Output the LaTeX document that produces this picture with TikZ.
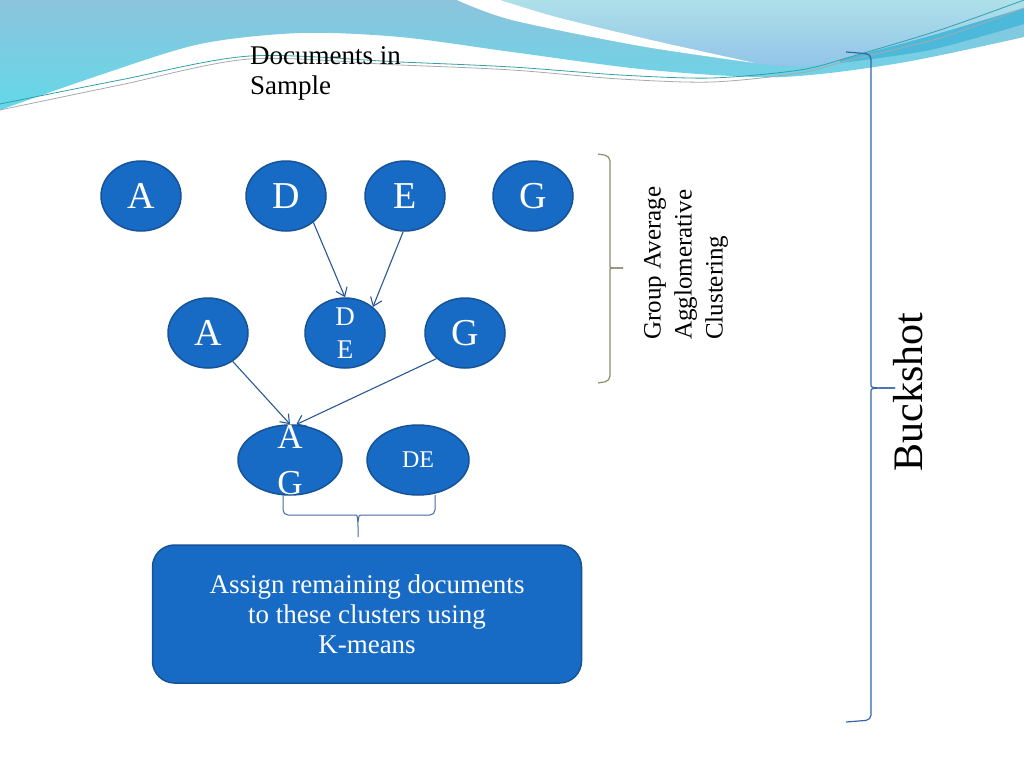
\documentclass[tikz,border=0pt]{standalone}
\usepackage{fontspec}
\setmainfont{Liberation Serif}
\usetikzlibrary{arrows.meta,shapes.geometric}
\definecolor{clusterfill}{RGB}{24,107,196}
\definecolor{clusterline}{RGB}{22,82,150}
\definecolor{arrowblue}{RGB}{40,88,150}
\definecolor{braceolive}{RGB}{140,140,110}
\definecolor{braceblue}{RGB}{50,100,165}
\definecolor{wavetop}{RGB}{140,196,220}
\definecolor{wavebottom}{RGB}{100,216,234}
\definecolor{wavelight}{RGB}{174,224,234}
\definecolor{wavesky}{RGB}{146,196,232}
\definecolor{wavedeep}{RGB}{76,184,218}
\definecolor{lineteal}{RGB}{50,160,165}
\definecolor{linegray}{RGB}{165,170,172}
\tikzset{
  cluster/.style={ellipse, draw=clusterline, line width=1.5pt, fill=clusterfill, text=white,
    minimum width=80pt, minimum height=70pt, inner sep=0pt, font=\fontsize{38}{40}\selectfont},
  pairtext/.style={text=white, align=center, inner sep=0pt, font=\fontsize{27}{33}\selectfont},
  kbox/.style={draw=clusterline, line width=1.5pt, fill=clusterfill, rounded corners=22pt,
    minimum width=429pt, minimum height=138pt, text=white, align=center, font=\fontsize{27}{30}\selectfont},
  merge/.style={draw=arrowblue, line width=1.1pt, -{Straight Barb[length=8pt,width=12pt]}},
  groupbrace/.style={draw=braceolive, line width=1.2pt, rounded corners=5pt},
  buckbrace/.style={draw=braceblue, line width=1.2pt, rounded corners=5pt},
  pairbrace/.style={draw=braceblue!80!gray, line width=1pt, rounded corners=5pt}
}
\begin{document}
\begin{tikzpicture}[x=1pt, y=-1pt]
		\useasboundingbox (0,0) rectangle (1024,768);
		\shade[top color=wavetop, bottom color=wavebottom] (0,0) -- plot[smooth] coordinates {(0,110) (100,75) (200,44) (300,33) (400,37) (512,52) (650,70) (780,77) (900,63) (1024,37)} -- (1024,0) -- cycle;
		\shade[top color=wavelight, bottom color=wavesky] (500,0) -- plot[smooth] coordinates {(500,0) (560,18) (660,42) (755,63) (812,66) (860,55) (940,33) (1024,8)} -- (1024,0) -- cycle;
		\fill[wavedeep] plot[smooth] coordinates {(840,60) (930,36) (1024,8)} -- (1024,24) -- plot[smooth] coordinates {(1024,24) (930,50) (840,63)} -- cycle;
		\fill[white] (457,0) -- plot[smooth] coordinates {(457,0) (512,20) (640,46) (755,63)} -- plot[smooth] coordinates {(755,63) (660,42) (560,18) (500,0)} -- cycle;
		\draw[lineteal, line width=0.8pt] plot[smooth] coordinates {(0,104) (120,80) (250,56) (400,62) (512,67) (620,75) (712,78) (800,70) (850,57) (940,30) (1024,0)};
		\draw[linegray, line width=0.8pt] plot[smooth] coordinates {(0,110) (120,85) (250,59) (400,65) (512,70) (620,79) (712,82) (800,73) (850,60) (940,38) (1024,8)};
		\node (docs) at (250,46) [anchor=north west, align=left, inner sep=0pt, font=\fontsize{27}{30}\selectfont] {Documents in\\Sample};
		\node (A1) at (141,196) [cluster] {A};
		\node (D1) at (286,196) [cluster] {D};
		\node (E1) at (405,196) [cluster] {E};
		\node (G1) at (533,196) [cluster] {G};
		\node (A2) at (208,333) [cluster] {A};
		\node (DE2) at (345,333) [cluster, label={[pairtext]center:D\\E}] {};
		\node (G2) at (465,333) [cluster] {G};
		\node (AG3) at (290,460) [cluster, minimum width=104pt, label={[pairtext, font=\fontsize{35}{46}\selectfont]center:A\\G}] {};
		\node (DE3) at (418,460) [cluster, minimum width=102pt, font=\fontsize{24}{28}\selectfont] {DE};
		\draw[merge] (D1.316) -- (DE2.north);
		\draw[merge] (E1.267) -- (DE2.43);
		\draw[merge] (A2.311) -- (AG3.north);
		\draw[merge] (G2.222) -- (AG3.80);
		\draw[pairbrace] (283,495) -- (283,515) -- (350,515) .. controls (357,515) .. (358,522) -- (358,537);
		\draw[pairbrace] (435,495) -- (435,515) -- (366,515) .. controls (359,515) .. (358,522);
		\node (assign) at (367,614) [kbox] {Assign remaining documents\\to these clusters using\\K-means};
		\draw[groupbrace] (598,154) -- (610,156) -- (610,262) .. controls (610,268) .. (623,268);
		\draw[groupbrace] (598,383) -- (610,381) -- (610,274) .. controls (610,268) .. (623,268);
		\node (gaac) at (686,340) [rotate=90, anchor=west, align=left, inner sep=0pt, font=\fontsize{25}{31}\selectfont] {Group Average\\Agglomerative\\Clustering};
		\draw[buckbrace] (846,52) -- (871,54) -- (871,380) .. controls (871,388) .. (895,388);
		\draw[buckbrace] (846,722) -- (871,720) -- (871,396) .. controls (871,388) .. (895,388);
		\node (buck) at (908,392) [rotate=90, inner sep=0pt, font=\fontsize{42}{44}\selectfont] {Buckshot};
	\end{tikzpicture}
\end{document}
